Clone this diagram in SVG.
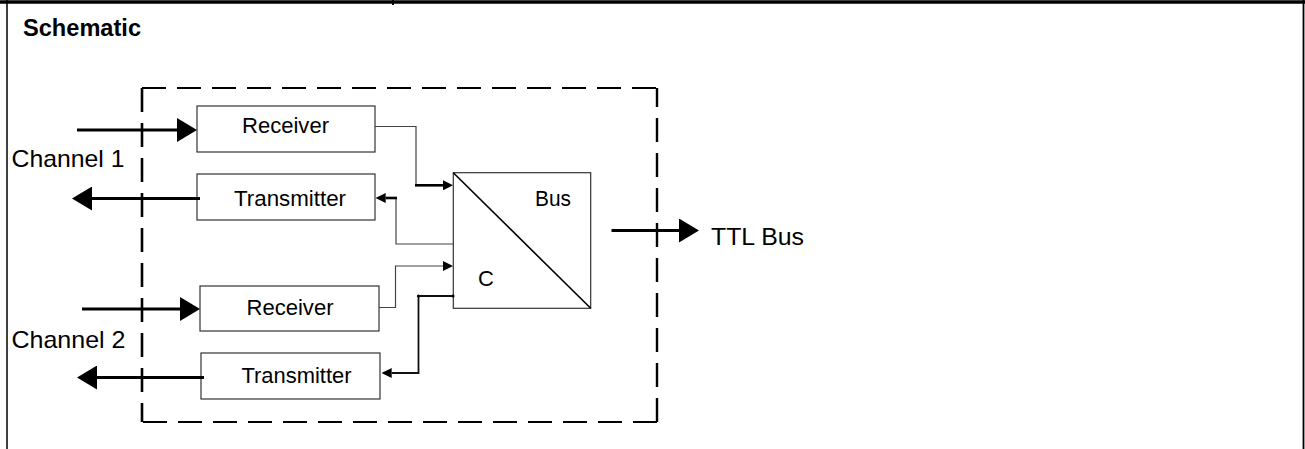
<svg xmlns="http://www.w3.org/2000/svg" width="1305" height="449" viewBox="0 0 1305 449">
  <style>
    .txt { font-family: "Liberation Sans", Arial, sans-serif; fill: #000; }
    .lbl { font-size: 22px; }
    .big { font-size: 24px; }
    .title { font-size: 23px; font-weight: bold; }
    .box { fill: #fff; stroke: #333; stroke-width: 1.2; }
    .dash { stroke: #000; stroke-width: 2.2; stroke-dasharray: 24 11; fill: none; }
    .thin { fill: none; stroke: #444; stroke-width: 1.2; }
    .thick { fill: none; stroke: #000; stroke-width: 3.2; }
    .mid { fill: none; stroke: #000; stroke-width: 2.6; }
  </style>
  <defs>
    <marker id="bigArrow" markerUnits="userSpaceOnUse" markerWidth="20" markerHeight="24" refX="0" refY="12" orient="auto" viewBox="0 0 20 24">
      <path d="M0,0 L20,12 L0,24 Z" fill="#000"/>
    </marker>
    <marker id="smallArrow" markerUnits="userSpaceOnUse" markerWidth="10" markerHeight="10" refX="0" refY="5" orient="auto" viewBox="0 0 10 10">
      <path d="M0,0 L10,5 L0,10 Z" fill="#000"/>
    </marker>
  </defs>
  <rect x="0" y="0" width="1305" height="449" fill="#fff"/>

  <g id="frame">
    <line x1="0" y1="2" x2="1305" y2="2" stroke="#000" stroke-width="3.5"/>
    <line x1="7" y1="0" x2="7" y2="449" stroke="#000" stroke-width="1.5"/>
    <line x1="1303.5" y1="0" x2="1303.5" y2="449" stroke="#000" stroke-width="1.8"/>
    <line x1="393" y1="0" x2="393" y2="5" stroke="#000" stroke-width="2"/>
  </g>

  <g id="title">
    <text class="txt title" x="23" y="36" textLength="118" lengthAdjust="spacingAndGlyphs">Schematic</text>
  </g>

  <g id="boundary">
    <line class="dash" x1="142" y1="88" x2="657" y2="88"/>
    <line class="dash" x1="142" y1="88" x2="142" y2="422" style="stroke-width:2.6"/>
    <line class="dash" x1="657" y1="422" x2="142" y2="422"/>
    <line class="dash" x1="657" y1="422" x2="657" y2="88" style="stroke-width:2.4"/>
  </g>

  <g id="receiver1">
    <rect class="box" x="197" y="106" width="178" height="46"/>
    <text class="txt lbl" x="242" y="133" textLength="87" lengthAdjust="spacingAndGlyphs">Receiver</text>
  </g>
  <g id="transmitter1">
    <rect class="box" x="197" y="174" width="178" height="46"/>
    <text class="txt lbl" x="234" y="205.5" textLength="112" lengthAdjust="spacingAndGlyphs">Transmitter</text>
  </g>
  <g id="receiver2">
    <rect class="box" x="200" y="286" width="179" height="45"/>
    <text class="txt lbl" x="246.5" y="315" textLength="87" lengthAdjust="spacingAndGlyphs">Receiver</text>
  </g>
  <g id="transmitter2">
    <rect class="box" x="201" y="353" width="179" height="46"/>
    <text class="txt lbl" x="241.5" y="383.3" textLength="110" lengthAdjust="spacingAndGlyphs">Transmitter</text>
  </g>

  <g id="bus-converter">
    <rect class="box" x="453.3" y="172.7" width="137.4" height="135.6"/>
    <line x1="453.3" y1="172.7" x2="590.7" y2="308.3" stroke="#000" stroke-width="1.6"/>
    <text class="txt lbl" x="535" y="206" textLength="36" lengthAdjust="spacingAndGlyphs">Bus</text>
    <text class="txt lbl" x="478" y="285.7">C</text>
  </g>

  <g id="channel1">
    <text class="txt big" x="11.5" y="167" textLength="113" lengthAdjust="spacingAndGlyphs">Channel 1</text>
  </g>
  <g id="channel2">
    <text class="txt big" x="11.5" y="348" textLength="114" lengthAdjust="spacingAndGlyphs">Channel 2</text>
  </g>
  <g id="ttl-bus">
    <text class="txt big" x="711" y="245" textLength="93" lengthAdjust="spacingAndGlyphs">TTL Bus</text>
  </g>

  <g id="connectors">
    <!-- external thick arrows -->
    <line class="thick" x1="77" y1="130" x2="177" y2="130" marker-end="url(#bigArrow)"/>
    <line class="thick" x1="200" y1="198.5" x2="92" y2="198.5" marker-end="url(#bigArrow)"/>
    <line class="thick" x1="82" y1="309" x2="180" y2="309" marker-end="url(#bigArrow)"/>
    <line class="thick" x1="204" y1="377.5" x2="97" y2="377.5" marker-end="url(#bigArrow)"/>
    <line class="thick" x1="611.5" y1="230.5" x2="679" y2="230.5" marker-end="url(#bigArrow)"/>

    <!-- Receiver 1 to Bus -->
    <polyline class="thin" points="375,126.5 416,126.5 416,185.3"/>
    <line class="mid" x1="415" y1="185.3" x2="443" y2="185.3" marker-end="url(#smallArrow)"/>
    <!-- Bus to Transmitter 1 -->
    <polyline class="thin" points="453,244 396,244 396,198"/>
    <line class="mid" x1="397" y1="198" x2="385.7" y2="198" marker-end="url(#smallArrow)"/>
    <!-- Receiver 2 to Bus -->
    <polyline class="thin" points="379,307.5 395.5,307.5 395.5,266 443,266" marker-end="url(#smallArrow)"/>
    <!-- Bus to Transmitter 2 -->
    <polyline fill="none" stroke="#111" stroke-width="1.8" points="453,296 418.5,296 418.5,373 391.7,373" marker-end="url(#smallArrow)"/>
    <circle cx="418.5" cy="296" r="1.6" fill="#000"/>
    <circle cx="453" cy="296" r="1.6" fill="#000"/>
  </g>
</svg>
